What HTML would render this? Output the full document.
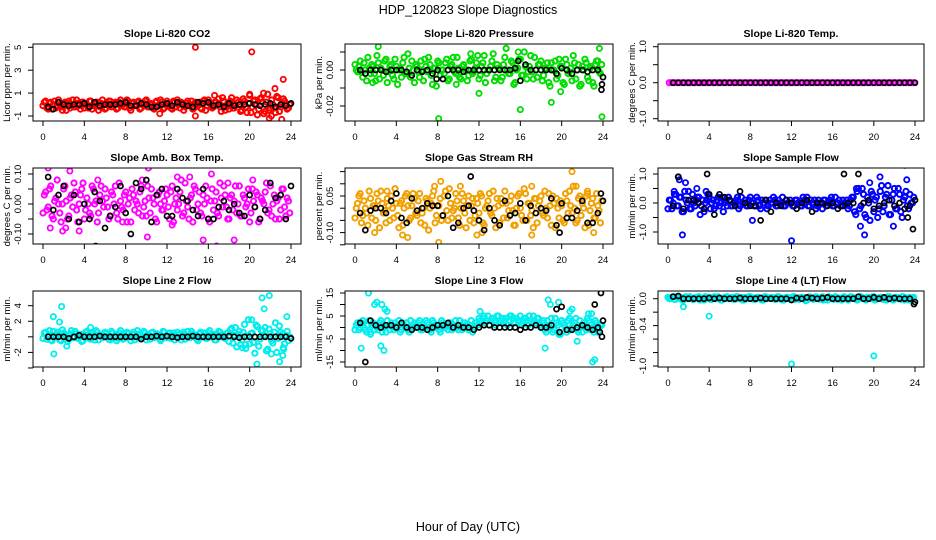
<!DOCTYPE html>
<html><head><meta charset="utf-8"><title>HDP_120823 Slope Diagnostics</title>
<style>
html,body{margin:0;padding:0;background:#fff;}
svg{display:block;font-family:"Liberation Sans",sans-serif;}
</style></head>
<body>
<svg id="chart" width="936" height="540" viewBox="0 0 936 540">
<text x="468" y="14" text-anchor="middle" font-size="12.5">HDP_120823  Slope Diagnostics</text>
<text x="468" y="531" text-anchor="middle" font-size="12.5">Hour of Day (UTC)</text>
</svg>
<script>
// ---- data ----
const xTicks = [0,4,8,12,16,20,24];

const co2Main = [0.2,-0.3,0.1,-0.4,0.3,-0.1,0.0,-0.5,0.2,0.1,-0.3,0.4,-0.2,0.1,-0.4,0.2,0.0,-0.3,0.3,-0.1,0.2,-0.5,0.1,0.0,-0.3,0.3,-0.2,0.1,-0.4,0.2,0.0,-0.2,0.4,-0.3,0.1,-0.1,0.2,-0.4,0.0,0.3,-0.2,0.1,-0.3,0.2,-0.1,0.4,-0.4,0.0,0.1,-0.3,0.3,-0.2,0.0,0.2,-0.5,0.1,-0.1,0.3,-0.3,0.0,0.2,-0.4,0.4,-0.1,0.1,-0.3,0.2,0.0,-0.2,0.6,-0.5,0.1,0.3,-0.3,0.0,0.2,-0.6,0.5,-0.2,0.1,-0.7,0.3,0.0,-0.4,0.6,-0.8,0.2,-0.5,0.4,-0.3,0.7,-0.6,0.1,0.3,-0.4,0.0];
const co2MainB = [-0.1,0.3,-0.4,0.2,0.0,-0.3,0.4,-0.2,0.1,-0.5,0.3,0.0,-0.2,0.4,-0.1,0.2,-0.3,0.0,0.3,-0.4,0.1,0.2,-0.2,0.4,-0.4,0.1,0.3,-0.1,0.2,-0.3,0.4,0.0,-0.2,0.3,-0.5,0.2,0.0,0.3,-0.3,0.1,0.4,-0.2,0.0,-0.4,0.3,-0.1,0.2,-0.3,0.3,0.0,-0.4,0.2,0.4,-0.3,0.1,-0.2,0.3,0.0,-0.4,0.2,0.1,-0.3,0.3,-0.5,0.4,0.0,-0.2,0.2,0.5,-0.6,0.3,-0.2,-0.4,0.6,-0.3,0.4,0.0,-0.5,0.3,-0.7,0.8,-0.2,0.4,-0.9,0.5,0.2,-0.6,0.9,-0.3,0.0,-0.7,0.6,-0.2,0.5,0.1,-0.3];
const co2OutHours = [14.75,20.2,23.25,22.45,21.35,20,21.9,23.1,14.75,11.3,22.1,16.6];
const co2OutValues = [5,4.6,2.2,1.4,1.0,0.9,-1.2,-1.3,-1.0,-0.8,-1.0,0.8];
const co2Hourly = [-0.2,-0.4,0.2,0.0,-0.1,0.0,0.0,0.1,-0.2,0.2,-0.1,0.0,0.0,0.0,0.1,0.2,-0.1,-0.1,0.1,0.0,-0.2,-0.2,0.0,0.1,-0.1,0.2,0.0,-0.1,-0.2,0.2,0.1,0.2,-0.1,0.0,-0.2,0.1,-0.1,0.0,0.0,0.1,0.0,-0.1,0.0,0.1,-0.2,0.0,-0.1,0.1];
const co2HourlyOutHours = [];
const co2HourlyOutValues = [];

// pressure in units of 0.001 kPa/min
const presMain = [0,2,-1,4,-6,1,3,-2,8,-5,0,5,-7,2,-3,6,-8,1,4,-2,9,-4,0,3,-1,5,-6,2,7,-3,1,-9,4,0,-2,6,-5,3,-1,7,-4,2,0,-6,5,-2,1,8,-3,4,-7,0,2,9,-4,1,-6,3,12,-2,5,-8,0,6,-3,10,-5,2,-1,7,-4,3,-6,1,4,-9,0,5,-3,2,-7,6,-2,1,8,-5,3,-8,0,4,-6,2,-9,5,-1,3];
const presMainB = [3,-1,5,-4,0,7,-2,2,-6,4,1,-3,6,-1,3,-5,2,0,-4,7,-2,1,5,-7,2,-4,0,6,-1,3,-8,1,5,-3,0,4,-6,2,7,-2,1,-5,3,0,-3,6,-1,4,-5,2,8,-2,0,5,-6,3,1,-4,7,0,-2,4,-7,1,6,-3,2,-1,8,-5,0,3,5,-3,1,-7,4,0,-5,6,2,-8,3,-1,-6,4,0,-9,2,6,-4,1,-7,3,5,-2];
const presOutHours = [2.25,8.1,12,16,19,19.9,23.9,23.65,1.7,9.8,11.2,15.8];
const presOutValues = [13,-27,-13,-22,-18,-12,-26,12,-7,-8,9,10];
const presHourly = [0,-2,0,0,0,-1,0,0,0,-1,-3,0,-1,0,-2,0,-5,0,0,0,-1,0,0,0,0,0,0,0,0,0,1,-6,3,0,0,0,0,0,-2,1,0,-2,0,0,-1,0,0,-4];
const presHourlyOutHours = [23.9,23.85,15.8,7.9];
const presHourlyOutValues = [-8,-11,5,-5];

const tempMain = [0,0,0,0,0,0,0,0,0,0,0,0,0,0,0,0,0,0,0,0,0,0,0,0,0,0,0,0,0,0,0,0,0,0,0,0,0,0,0,0,0,0,0,0,0,0,0,0,0,0,0,0,0,0,0,0,0,0,0,0,0,0,0,0,0,0,0,0,0,0,0,0,0,0,0,0,0,0,0,0,0,0,0,0,0,0,0,0,0,0,0,0,0,0,0,0];
const tempMainB = [];
const tempOutHours = [];
const tempOutValues = [];
const tempHourly = [0,0,0,0,0,0,0,0,0,0,0,0,0,0,0,0,0,0,0,0,0,0,0,0,0,0,0,0,0,0,0,0,0,0,0,0,0,0,0,0,0,0,0,0,0,0,0,0];
const tempHourlyOutHours = [];
const tempHourlyOutValues = [];

// amb box temp in units of 0.01
const ambMain = [3,-2,5,-4,1,8,-3,0,6,-5,2,-1,4,-6,3,7,-2,0,-4,5,1,-3,6,-1,2,-5,4,0,-3,7,-1,3,-6,2,5,-2,0,4,-4,1,6,-3,2,-5,3,0,-2,5,-1,4,-6,2,0,8,-3,1,-5,3,6,-2,4,-4,0,2,-6,5,1,-3,7,-1,3,-5,2,-2,6,0,-4,3,-1,5,-3,1,4,-6,2,0,7,-2,-4,3,1,-5,5,-1,2,-3];
const ambMainB = [-3,4,-1,6,-5,2,0,-6,5,1,-4,3,7,-2,0,5,-5,2,-3,6,0,-6,3,1,5,-1,-4,3,6,-5,1,-2,4,0,-6,3,1,-3,6,-1,-4,2,5,0,-6,4,-2,1,3,-5,6,0,-2,4,-4,7,-1,2,-6,5,0,-3,3,6,-5,1,-2,4,-4,2,6,-1,-5,3,1,-3,6,-4,2,0,-6,5,-1,3,-5,1,4,-3,6,0,-5,2,-2,5,-4,1];
const ambOutHours = [0.5,2.6,5.3,9.6,10.2,13,16.3,18.5,16.8,15.5,10.1,0.7,1.9,3.5,17.9,20.3,2.2,7.7,12.5,14.2];
const ambOutValues = [12,11,8,8,12,9,10,-12,-14,-12,-11,-8,-9,-9,7,8,-8,-6,-7,9];
const ambHourly = [9,-2,3,6,-5,3,-6,0,-5,4,1,-8,-4,-1,6,-3,-10,7,5,8,-6,3,5,-4,-4,5,2,1,-2,-4,5,-5,-5,-1,1,-2,0,-3,-4,3,-1,-5,-2,7,2,3,-5,6];
const ambHourlyOutHours = [5.1];
const ambHourlyOutValues = [-14];

// gas stream RH in units of 0.01
const rhMain = [0,5,-6,3,-2,7,-4,1,6,-8,2,-1,4,-5,0,8,-3,2,-7,5,1,-4,6,-2,3,-6,0,4,-9,2,7,-3,1,-5,5,-1,8,-4,0,3,-7,6,-2,1,-5,4,-3,2,6,-6,0,3,-2,7,-8,1,4,-4,2,-1,5,-7,0,6,-3,8,-5,2,-1,4,-6,3,-2,7,-4,1,5,-8,0,3,-5,6,-2,1,9,-6,4,-3,0,5,-7,2,-4,6,-1,3];
const rhMainB = [-4,2,6,-3,0,-7,4,1,-5,3,7,-2,-6,1,5,-4,2,-8,3,0,6,-5,1,4,-3,6,-2,-7,3,0,5,-6,1,4,-3,7,-5,2,-1,6,-4,0,3,-8,5,1,-6,4,-2,5,-7,1,6,-3,0,4,-6,2,7,-4,3,-1,-7,5,0,-5,6,2,-3,-8,4,1,5,-3,0,6,-7,2,4,-4,1,-6,3,7,-2,0,-5,5,2,-8,6,-1,4,-4,1,-6];
const rhOutHours = [7.7,8.3,8.1,10.2,11.8,12.3,17.1,17.1,21,21.4,22.5,23.1,1.9,3.1,4.6,5.1];
const rhOutValues = [9,11,-14,9,-11,-10,9,-11,15,9,7,-10,-10,7,-11,-12];
const rhHourly = [-2,-9,-1,0,0,-2,3,6,-4,-6,4,-1,0,2,1,1,-3,5,-8,-6,0,1,-1,-5,-9,0,-5,-7,3,-3,-2,2,-5,1,-2,0,-1,4,-7,2,-4,-4,-1,3,-6,-6,-2,3];
const rhHourlyOutHours = [11.2,23.8,19.8];
const rhHourlyOutValues = [13,6,-10];

// sample flow in units of 0.1
const sfMain = [1,-2,3,-1,2,-3,4,0,-2,3,-1,2,-4,1,0,3,-2,1,-1,2,0,-3,1,2,-1,0,1,-2,2,0,-1,1,0,-1,2,-1,1,0,-2,1,0,1,-1,0,2,-1,0,1,-1,1,0,-1,2,0,-1,1,0,-2,1,0,1,-1,0,2,-1,0,1,-1,0,1,-1,2,-3,4,-2,5,-4,2,-6,3,1,-5,4,-3,2,6,-4,3,-2,5,-3,1,4,-2,0,2];
const sfMainB = [-2,1,0,3,-1,2,-3,1,4,-2,0,1,2,-1,-3,1,2,0,-2,1,-1,2,0,-1,1,-1,0,2,-1,0,1,-1,2,0,-1,1,-2,0,1,-1,0,2,-1,1,0,-1,1,0,0,-1,1,0,-1,1,2,-1,0,1,-1,0,-2,1,0,1,-1,2,0,-1,1,0,-2,1,2,-4,5,-1,3,-5,0,4,-3,2,-2,6,-1,3,-4,1,5,-2,3,-5,2,-1,3,0];
const sfOutHours = [1,1.1,1.7,1.4,12,19.1,23,23.2,20.6,19.6,18.7,0.6,2.8,3.7,18.3,21.9,8.2];
const sfOutValues = [9,8,7,-11,-13,-11,13,8,9,7,-8,4,5,4,5,-8,-6];
const sfHourly = [-1,9,-2,1,1,0,-2,3,-4,3,2,1,-1,4,0,-1,-1,-6,1,-3,0,-1,1,0,-2,0,1,-3,0,0,-1,0,-2,-1,0,0,10,0,1,-2,-1,0,1,-1,0,-2,-1,1];
const sfHourlyOutHours = [3.8,17.1,23.8,23.3];
const sfHourlyOutValues = [10,10,-9,-5];

const l2Main = [0.5,-0.3,0.8,-0.5,0.2,0.6,-0.4,0.9,0.1,-0.6,0.4,0,0.7,-0.2,0.3,-0.5,0.6,0.1,-0.3,0.5,0.8,-0.4,0.2,0,0.4,-0.3,0.7,0.1,-0.5,0.5,0.2,-0.2,0.6,0,0.3,-0.4,0.8,0.1,-0.1,0.5,0.3,-0.3,0.6,0,0.2,-0.5,0.7,0.1,0.4,-0.2,0.5,0,0.3,-0.4,0.6,0.1,-0.1,0.7,0.2,-0.3,0.4,0,0.5,-0.2,0.8,0.1,-0.4,0.3,0.6,0,-0.2,0.5,0.9,-0.8,1.2,0.3,-1.0,0.6,-1.5,2.2,0.4,-0.7,1.5,-1.2,0.8,0.2,-1.8,1.0,-0.5,0.6,-2.0,1.4,0.3,-0.9,0.7,0];
const l2MainB = [-0.2,0.6,0.1,-0.4,0.7,0,0.3,-0.5,0.5,0.2,-0.3,0.8,-0.1,0.4,0,-0.6,0.3,0.7,-0.2,0.1,-0.4,0.6,0.3,-0.1,0.6,0.1,-0.4,0.5,0.2,-0.2,0.8,-0.3,0.1,0.4,-0.5,0.6,0,0.3,-0.2,0.7,-0.4,0.2,0.5,-0.1,0.4,0,-0.3,0.6,-0.1,0.5,0.2,-0.4,0.6,0,0.3,-0.3,0.7,-0.1,0.4,0.2,-0.5,0.6,0.1,-0.2,0.5,0,0.3,-0.4,0.7,0.2,-0.1,0.4,-0.6,1.1,0.2,-1.3,0.7,-0.4,1.6,0.1,-0.9,0.5,-2.1,1.3,-0.3,0.8,1.2,-1.6,0.4,-0.8,1.8,-0.2,0.6,-1.4,0.2,-0.5];
const l2OutHours = [1.8,1,1.05,1.6,2.3,4.6,20.7,21.2,21.9,21.4,20.2,22.1,22.9,23.3,23.6,23.2,19.3,19.6];
const l2OutValues = [3.9,2.6,-2.2,1.9,-1.2,1.2,-3.5,5.0,5.3,3.6,2.2,-2.2,-3.2,-1.6,2.6,-2.4,-1.4,-1.0];
const l2Hourly = [0,0,0,0,-0.2,0,0.2,0,0,0,0.1,0,0,0,0,0,0,0,-0.3,0,0,0.1,0,0.1,0,-0.1,0,0,0.1,0,0,0,0,0,0,0.1,0,-0.1,0,0,0,0,0,0,0,0,0,-0.2];
const l2HourlyOutHours = [];
const l2HourlyOutValues = [];

const l3Main = [1,-1,2,0,-2,3,1,-1,0,2,-2,1,3,-1,0,2,1,-2,2,0,-1,3,1,0,2,-1,1,3,0,-2,2,1,-1,3,0,1,2,-1,1,0,3,-1,2,0,1,-2,2,1,3,4,2,5,3,4,1,5,3,2,4,3,5,2,4,3,1,4,3,5,2,3,4,1,2,-1,3,0,-2,4,1,-3,2,0,3,-1,1,4,-2,0,2,-1,3,1,-2,2,0,1];
const l3MainB = [-1,2,0,3,-1,1,-2,2,1,-1,3,0,-2,1,2,-1,0,3,-1,1,2,-2,0,2,1,3,-1,0,2,-1,3,0,1,-2,2,0,-1,2,1,3,-1,0,2,1,-1,3,0,2,4,2,5,3,1,4,3,5,2,4,3,1,5,4,2,3,5,2,4,1,3,5,2,4,0,3,-2,1,4,-1,2,-3,3,1,-2,4,0,2,-1,3,-2,1,4,-1,0,3,-2,1];
const l3OutHours = [1.3,1.9,2.1,2.6,2.9,3.1,0.6,2.5,2.8,12.1,18.7,18.9,19.7,20.8,21,22.6,18.4,21.5,23,23.2,1.5,22.9];
const l3OutValues = [15,10,11,10,8,7,-9,-8,-10,7,12,10,11,7,8,6,-9,-6,-15,-14,-3,6];
const l3Hourly = [2,-15,3,1,0,1,1,0,2,0,-1,0,0,-1,0,1,1,2,0,1,0,0,-1,0,1,1,0,0,0,0,0,-1,0,0,1,0,0,1,8,9,-1,-1,0,1,0,-1,0,3];
const l3HourlyOutHours = [23.2,23.8,23.9,23.7,19.8];
const l3HourlyOutValues = [10,15,-4,-2,-2];

// line 4 flow in units of 0.01
const l4Main = [0,2,-1,3,1,-2,2,0,3,-1,1,2,-2,0,3,1,-1,2,0,3,-2,1,2,0,1,-1,3,0,2,-2,1,3,0,-1,2,1,-2,3,0,1,2,-1,3,0,-2,1,2,0,3,-1,1,2,0,-3,2,1,-1,3,0,2,-2,1,3,0,-1,2,1,-2,3,0,1,2,0,-2,3,1,-1,2,0,3,-2,1,2,-1,0,3,1,-2,2,0,-1,3,1,-2,0,2];
const l4MainB = [2,0,3,-1,1,2,-2,3,0,1,-1,2,3,0,-2,1,2,-1,3,0,1,-2,2,3,0,2,-1,3,1,-2,2,0,3,1,-1,2,0,-2,3,1,2,0,-1,3,1,-2,2,0,1,3,0,-1,2,1,-2,3,0,2,1,-1,3,0,-2,2,1,3,-1,0,2,1,-2,3,2,0,-1,3,1,-2,2,0,3,-1,1,2,0,-2,3,1,-1,2,0,3,-2,1,2,0];
const l4OutHours = [4,12,20,1.5];
const l4OutValues = [-26,-97,-85,-12];
const l4Hourly = [3,4,0,0,0,0,0,1,0,1,0,0,0,1,0,0,0,1,0,0,0,0,0,-2,1,0,2,1,0,1,2,0,0,0,0,0,3,0,0,2,0,2,0,1,0,0,0,-5];
const l4HourlyOutHours = [23.9];
const l4HourlyOutValues = [-8];

// ---- layout ----
const svg = document.getElementById('chart');
const NS = 'http://www.w3.org/2000/svg';
function mk(tag, attrs, parent){
  const e = document.createElementNS(NS, tag);
  for (const k in attrs) e.setAttribute(k, attrs[k]);
  (parent||svg).appendChild(e);
  return e;
}
const cols = [{l:33,r:301,x0:43,x24:291},{l:345,r:613,x0:355,x24:603},{l:658,r:924,x0:668,x24:915}];
const rows = [{t:44,b:121},{t:168,b:244},{t:291,b:367}];

const panels = [
 {id:'co2',title:'Slope Li-820 CO2',ylab:'Licor ppm per min.',c:0,r:0,color:'#ff0000',scale:1,ya:[5,47.3],yb:[-1,116],ticks:[-1,1,3,5],labels:['-1','1','3','5'],
  main:co2Main,mainB:co2MainB,oh:co2OutHours,ov:co2OutValues,hourly:co2Hourly,hoh:co2HourlyOutHours,hov:co2HourlyOutValues},
 {id:'pressure',title:'Slope Li-820 Pressure',ylab:'kPa per min.',c:1,r:0,color:'#00dd00',scale:0.001,ya:[0,70],yb:[-0.02,106],ticks:[0.01,0,-0.01,-0.02],labels:['','0.00','','-0.02'],
  main:presMain,mainB:presMainB,oh:presOutHours,ov:presOutValues,hourly:presHourly,hoh:presHourlyOutHours,hov:presHourlyOutValues},
 {id:'temp',title:'Slope Li-820 Temp.',ylab:'degrees C per min.',c:2,r:0,color:'#ff00ff',scale:1,ya:[1,46.7],yb:[-1,118.7],ticks:[-1,-0.5,0,0.5,1],labels:['-1.0','','0.0','','1.0'],
  main:tempMain,mainB:tempMainB,oh:tempOutHours,ov:tempOutValues,hourly:tempHourly,hoh:tempHourlyOutHours,hov:tempHourlyOutValues},
 {id:'amb-box-temp',title:'Slope Amb. Box Temp.',ylab:'degrees C per min.',c:0,r:1,color:'#ff00ff',scale:0.01,ya:[0.1,174],yb:[-0.1,234],ticks:[-0.1,-0.05,0,0.05,0.1],labels:['-0.10','','0.00','','0.10'],
  main:ambMain,mainB:ambMainB,oh:ambOutHours,ov:ambOutValues,hourly:ambHourly,hoh:ambHourlyOutHours,hov:ambHourlyOutValues},
 {id:'gas-stream-rh',title:'Slope Gas Stream RH',ylab:'percent per min.',c:1,r:1,color:'#f2a000',scale:0.01,ya:[0.05,196],yb:[-0.1,232.6],ticks:[0.15,0.1,0.05,0,-0.05,-0.1,-0.15],labels:['','','0.05','','','-0.10',''],
  main:rhMain,mainB:rhMainB,oh:rhOutHours,ov:rhOutValues,hourly:rhHourly,hoh:rhHourlyOutHours,hov:rhHourlyOutValues},
 {id:'sample-flow',title:'Slope Sample Flow',ylab:'ml/min per min.',c:2,r:1,color:'#0000ff',scale:0.1,ya:[1,174],yb:[-1,232],ticks:[-1,-0.5,0,0.5,1],labels:['-1.0','','0.0','','1.0'],
  main:sfMain,mainB:sfMainB,oh:sfOutHours,ov:sfOutValues,hourly:sfHourly,hoh:sfHourlyOutHours,hov:sfHourlyOutValues},
 {id:'line2-flow',title:'Slope Line 2 Flow',ylab:'ml/min per min.',c:0,r:2,color:'#00eeee',scale:1,ya:[4,305.7],yb:[-2,352.4],ticks:[-4,-2,0,2,4],labels:['','-2','','2','4'],
  main:l2Main,mainB:l2MainB,oh:l2OutHours,ov:l2OutValues,hourly:l2Hourly,hoh:l2HourlyOutHours,hov:l2HourlyOutValues},
 {id:'line3-flow',title:'Slope Line 3 Flow',ylab:'ml/min per min.',c:1,r:2,color:'#00eeee',scale:1,ya:[15,293],yb:[-15,362],ticks:[15,10,5,0,-5,-10,-15],labels:['15','','5','','-5','','-15'],
  main:l3Main,mainB:l3MainB,oh:l3OutHours,ov:l3OutValues,hourly:l3Hourly,hoh:l3HourlyOutHours,hov:l3HourlyOutValues},
 {id:'line4-flow',title:'Slope Line 4 (LT) Flow',ylab:'ml/min per min.',c:2,r:2,color:'#00eeee',scale:0.01,ya:[0,298.7],yb:[-1,366],ticks:[0,-0.2,-0.4,-0.6,-0.8,-1],labels:['0.0','','-0.4','','','-1.0'],
  main:l4Main,mainB:l4MainB,oh:l4OutHours,ov:l4OutValues,hourly:l4Hourly,hoh:l4HourlyOutHours,hov:l4HourlyOutValues}
];

panels.forEach(function(p){
  const C = cols[p.c], R = rows[p.r];
  const xs = h => C.x0 + (C.x24 - C.x0) * h / 24;
  const ys = v => p.ya[1] + (v - p.ya[0]) * (p.yb[1] - p.ya[1]) / (p.yb[0] - p.ya[0]);
  const g = mk('g', {});
  
  
  const cid = 'clip-' + p.id;
  const cp = mk('clipPath', {id: cid}, g);
  mk('rect', {x: C.l, y: R.t, width: C.r - C.l, height: R.b - R.t}, cp);

  const t = mk('text', {x: (C.l + C.r) / 2, y: R.t - 7, 'text-anchor': 'middle', 'font-size': '10.5', 'font-weight': 'bold'}, g);
  t.textContent = p.title;
  
  

  const yl = mk('text', {transform: 'translate(' + (C.l - 23) + ',' + ((R.t + R.b) / 2) + ') rotate(-90)', 'text-anchor': 'middle', 'font-size': '9.5'}, g);
  yl.textContent = p.ylab;
  
  

  const xa = mk('g', {stroke: '#000', 'stroke-width': '1'}, g);
  
  
  mk('line', {x1: xs(0), x2: xs(24), y1: R.b, y2: R.b}, xa);
  xTicks.forEach(function(h){
    mk('line', {x1: xs(h), x2: xs(h), y1: R.b, y2: R.b + 5}, xa);
    const tl = mk('text', {x: xs(h), y: R.b + 19, 'text-anchor': 'middle', 'font-size': '9.5', stroke: 'none'}, xa);
    tl.textContent = String(h);
    
    
  });
  const ya = mk('g', {stroke: '#000', 'stroke-width': '1'}, g);
  
  
  const tv = p.ticks.map(ys);
  mk('line', {x1: C.l, x2: C.l, y1: Math.min.apply(null, tv), y2: Math.max.apply(null, tv)}, ya);
  p.ticks.forEach(function(v, i){
    mk('line', {x1: C.l - 5, x2: C.l, y1: ys(v), y2: ys(v)}, ya);
    if (p.labels[i]) {
      const tl = mk('text', {transform: 'translate(' + (C.l - 12) + ',' + ys(v) + ') rotate(-90)', 'text-anchor': 'middle', 'font-size': '9.5', stroke: 'none'}, ya);
      tl.textContent = p.labels[i];
      
      
    }
  });

  const pts = mk('g', {'clip-path': 'url(#' + cid + ')', fill: 'none'}, g);
  
  
  p.main.forEach(function(v, i){
    const c = mk('circle', {cx: xs(0.125 + i * 0.25), cy: ys(v * p.scale), r: 2.6, stroke: p.color, 'stroke-width': 2}, pts);
    
    
  });
  p.mainB.forEach(function(v, i){
    const c = mk('circle', {cx: xs(i * 0.25), cy: ys(v * p.scale), r: 2.6, stroke: p.color, 'stroke-width': 2}, pts);
    
    
  });
  p.oh.forEach(function(h, i){
    const c = mk('circle', {cx: xs(h), cy: ys(p.ov[i] * p.scale), r: 2.6, stroke: p.color, 'stroke-width': 1.8}, pts);
    
    
  });
  p.hourly.forEach(function(v, i){
    const c = mk('circle', {cx: xs(0.5 + i * 0.5), cy: ys(v * p.scale), r: 2.5, stroke: '#000', 'stroke-width': 1.7}, pts);
    
    
  });
  p.hoh.forEach(function(h, i){
    const c = mk('circle', {cx: xs(h), cy: ys(p.hov[i] * p.scale), r: 2.5, stroke: '#000', 'stroke-width': 1.7}, pts);
    
    
  });

  const box = mk('rect', {x: C.l, y: R.t, width: C.r - C.l, height: R.b - R.t, fill: 'none', stroke: '#000', 'stroke-width': 1}, g);
  
  
});
</script>
</body></html>
